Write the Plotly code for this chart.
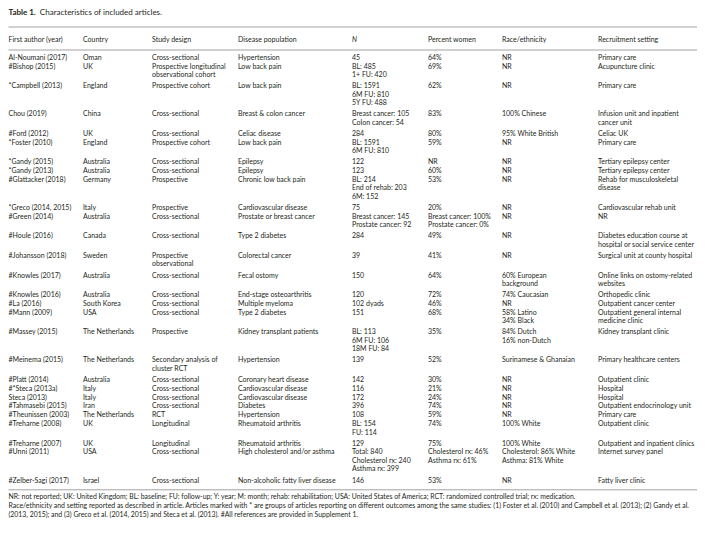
import plotly.graph_objects as go

# ---------------- data ----------------
headers = ["First author (year)", "Country", "Study design", "Disease population",
           "<i>N</i>", "Percent women", "Race/ethnicity", "Recruitment setting"]

authors = ["Al-Noumani (2017)", "#Bishop (2015)", "*Campbell (2013)", "Chou (2019)",
           "#Ford (2012)", "*Foster (2010)", "*Gandy (2015)", "*Gandy (2013)",
           "#Glattacker (2018)", "*Greco (2014, 2015)", "#Green (2014)", "#Houle (2016)",
           "#Johansson (2018)", "#Knowles (2017)", "#Knowles (2016)", "#La (2016)",
           "#Mann (2009)", "#Massey (2015)", "#Meinema (2015)", "#Platt (2014)",
           "#*Steca (2013a)", "Steca (2013)", "#Tahmasebi (2015)", "#Theunissen (2003)",
           "#Treharne (2008)", "#Treharne (2007)", "#Unni (2011)", "#Zelber-Sagi (2017)"]

countries = ["Oman", "UK", "England", "China", "UK", "England", "Australia", "Australia",
             "Germany", "Italy", "Australia", "Canada", "Sweden", "Australia", "Australia",
             "South Korea", "USA", "The Netherlands", "The Netherlands", "Australia", "Italy",
             "Italy", "Iran", "The Netherlands", "UK", "UK", "USA", "Israel"]

designs = ["Cross-sectional", "Prospective longitudinal<br>observational cohort",
           "Prospective cohort", "Cross-sectional", "Cross-sectional", "Prospective cohort",
           "Cross-sectional", "Cross-sectional", "Prospective", "Prospective",
           "Cross-sectional", "Cross-sectional", "Prospective<br>observational",
           "Cross-sectional", "Cross-sectional", "Cross-sectional", "Cross-sectional",
           "Prospective", "Secondary analysis of<br>cluster RCT", "Cross-sectional",
           "Cross-sectional", "Cross-sectional", "Cross-sectional", "RCT", "Longitudinal",
           "Longitudinal", "Cross-sectional", "Cross-sectional"]

diseases = ["Hypertension", "Low back pain", "Low back pain", "Breast & colon cancer",
            "Celiac disease", "Low back pain", "Epilepsy", "Epilepsy", "Chronic low back pain",
            "Cardiovascular disease", "Prostate or breast cancer", "Type 2 diabetes",
            "Colorectal cancer", "Fecal ostomy", "End-stage osteoarthritis", "Multiple myeloma",
            "Type 2 diabetes", "Kidney transplant patients", "Hypertension",
            "Coronary heart disease", "Cardiovascular disease", "Cardiovascular disease",
            "Diabetes", "Hypertension", "Rheumatoid arthritis", "Rheumatoid arthritis",
            "High cholesterol and/or asthma", "Non-alcoholic fatty liver disease"]

n_values = ["45", "BL: 485<br>1+ FU: 420", "BL: 1591<br>6M FU: 810<br>5Y FU: 488",
            "Breast cancer: 105<br>Colon cancer: 54", "284", "BL: 1591<br>6M FU: 810", "122",
            "123", "BL: 214<br>End of rehab: 203<br>6M: 152", "75",
            "Breast cancer: 145<br>Prostate cancer: 92", "284", "39", "150", "120",
            "102 dyads", "151", "BL: 113<br>6M FU: 106<br>18M FU: 84", "139", "142", "116",
            "172", "396", "108", "BL: 154<br>FU: 114", "129",
            "Total: 840<br>Cholesterol rx: 240<br>Asthma rx: 399", "146"]

pct_women = ["64%", "69%", "62%", "83%", "80%", "59%", "NR", "60%", "53%", "20%",
             "Breast cancer: 100%<br>Prostate cancer: 0%", "49%", "41%", "64%", "72%", "46%",
             "68%", "35%", "52%", "30%", "21%", "24%", "74%", "59%", "74%", "75%",
             "Cholesterol rx: 46%<br>Asthma rx: 61%", "53%"]

race = ["NR", "NR", "NR", "100% Chinese", "95% White British", "NR", "NR", "NR", "NR", "NR",
        "NR", "NR", "NR", "60% European<br>background", "74% Caucasian", "NR",
        "58% Latino<br>34% Black", "84% Dutch<br>16% non-Dutch", "Surinamese & Ghanaian",
        "NR", "NR", "NR", "NR", "NR", "100% White", "100% White",
        "Cholesterol: 86% White<br>Asthma: 81% White", "NR"]

settings = ["Primary care", "Acupuncture clinic", "Primary care",
            "Infusion unit and inpatient<br>cancer unit", "Celiac UK", "Primary care",
            "Tertiary epilepsy center", "Tertiary epilepsy center",
            "Rehab for musculoskeletal<br>disease", "Cardiovascular rehab unit", "NR",
            "Diabetes education course at<br>hospital or social service center",
            "Surgical unit at county hospital", "Online links on ostomy-related<br>websites",
            "Orthopedic clinic", "Outpatient cancer center",
            "Outpatient general internal<br>medicine clinic", "Kidney transplant clinic",
            "Primary healthcare centers", "Outpatient clinic", "Hospital", "Hospital",
            "Outpatient endocrinology unit", "Primary care", "Outpatient clinic",
            "Outpatient and inpatient clinics", "Internet survey panel", "Fatty liver clinic"]

title_text = "<b>Table 1.</b>  Characteristics of included articles."

footnotes = [
    "NR: not reported; UK: United Kingdom; BL: baseline; FU: follow-up; Y: year; M: month; "
    "rehab: rehabilitation; USA: United States of America; RCT: randomized controlled trial; rx: medication.",
    "Race/ethnicity and setting reported as described in article. Articles marked with * are groups "
    "of articles reporting on different outcomes among the same studies: (1) Foster et al. (2010) "
    "and Campbell et al. (2013); (2) Gandy et al.",
    "(2013, 2015); and (3) Greco et al. (2014, 2015) and Steca et al. (2013). "
    "#All references are provided in Supplement 1.",
]

columns = [authors, countries, designs, diseases, n_values, pct_women, race, settings]

# ---------------- layout / style ----------------
W, H = 705, 535
PAGE_OFFSET = 8      # the page body margin shifts the figure by 8px
FONT = "Lato, 'Open Sans', sans-serif"
FS = 7
LINE = 8.5           # line pitch inside a cell (px)
GAP_SINGLE = 0.3     # extra space after a one-line row
GAP_MULTI = 2.6      # extra space after a multi-line row
TEXT_COLOR = "#231f20"
RULE_COLOR = "#8a8a8a"

col_widths = [77, 69, 86, 114, 76, 74, 96, 107]   # px widths of each column
LEFT = 6
col_x = []
acc = LEFT
for w in col_widths:
    col_x.append(acc)
    acc += w
MIN_X = PAGE_OFFSET + 0.5
col_x = [max(x, MIN_X) for x in col_x]
TEXT_LEFT = MIN_X

TITLE_Y = 13
TOP_RULE = 27
HEADER_Y = 40
HEADER_RULE = 50
FIRST_ROW_Y = 58

# row positions computed from the number of lines in each row
cells = [[str(c[i]).split("<br>") for c in columns] for i in range(len(authors))]
n_lines = [max(len(cell) for cell in row) for row in cells]
row_y = []
y = FIRST_ROW_Y
for nl in n_lines:
    row_y.append(y)
    y += nl * LINE + (GAP_MULTI if nl > 1 else GAP_SINGLE)
last_line_y = row_y[-1] + (n_lines[-1] - 1) * LINE
BOTTOM_RULE = last_line_y + 9

fig = go.Figure()

def add_text(xs, ys, texts, size, color=TEXT_COLOR):
    fig.add_trace(go.Scatter(
        x=xs, y=ys, text=texts, mode="text",
        textposition="middle right", hoverinfo="skip", showlegend=False, cliponaxis=False,
        textfont=dict(family=FONT, size=size, color=color)))

# title
add_text([TEXT_LEFT], [TITLE_Y], [title_text], 8.0)

# header
add_text(col_x, [HEADER_Y] * len(headers), headers, FS)

# body: one text point per line of each cell
for j in range(len(columns)):
    xs, ys, ts = [], [], []
    for i, row in enumerate(cells):
        for k, line in enumerate(row[j]):
            xs.append(col_x[j])
            ys.append(row_y[i] + k * LINE)
            ts.append(line)
    add_text(xs, ys, ts, FS)

# footnotes
FOOT_Y0 = BOTTOM_RULE + 7.5
add_text([TEXT_LEFT] * len(footnotes), [FOOT_Y0 + i * 8.8 for i in range(len(footnotes))],
         footnotes, 6.9)

# rules
for yy in [TOP_RULE, HEADER_RULE, BOTTOM_RULE]:
    fig.add_shape(type="line", xref="x", yref="y", x0=MIN_X, x1=700, y0=yy, y1=yy,
                  line=dict(color=RULE_COLOR, width=0.8))

fig.update_layout(
    width=W, height=H, margin=dict(l=0, r=0, t=0, b=0),
    paper_bgcolor="white", plot_bgcolor="white",
    xaxis=dict(range=[PAGE_OFFSET, W + PAGE_OFFSET], visible=False, fixedrange=True),
    yaxis=dict(range=[H + PAGE_OFFSET, PAGE_OFFSET], visible=False, fixedrange=True),
)

fig.write_html("out.html")
